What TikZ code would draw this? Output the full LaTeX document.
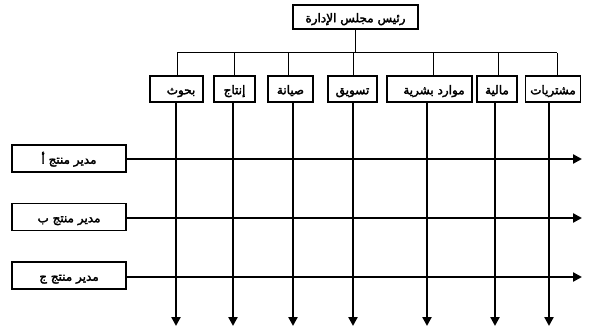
\documentclass[tikz,border=0pt]{standalone}
\usepackage{fontspec}
\newfontfamily\arabicfont[Script=Arabic,AutoFakeBold=2.5]{DejaVu Sans}
\TeXXeTstate=1
\usetikzlibrary{arrows.meta}
\begin{document}
\begin{tikzpicture}[x=1pt,y=-1pt,
 box/.style={draw,line width=1.3pt,inner sep=0pt,fill=white,text height=10.5pt,text depth=0pt,font=\arabicfont\bfseries\fontsize{12}{14}\selectfont},
 deptbox/.style={box,minimum height=26pt},
 rowbox/.style={box,minimum height=27pt,minimum width=114pt},
 thinln/.style={line width=1pt},
 arr/.style={line width=2.6pt,-{Triangle[width=9pt,length=9pt]}}]
\useasboundingbox (0,0) rectangle (589,329);
% chairman
\node[box,minimum width=125pt,minimum height=24pt] (ceo) at (355.5,17) {\beginR رئيس مجلس الإدارة\endR};
% departments
\node[deptbox,minimum width=53pt] (d1) at (176.5,89) {\hspace{9pt}\beginR بحوث\endR};
\node[deptbox,minimum width=41pt] (d2) at (234.5,89) {\beginR إنتاج\endR};
\node[deptbox,minimum width=45pt] (d3) at (290.5,89) {\beginR صيانة\endR};
\node[deptbox,minimum width=49pt] (d4) at (352.5,89) {\beginR تسويق\endR};
\node[deptbox,minimum width=85pt] (d5) at (429.5,89) {\hspace{9pt}\beginR موارد بشرية\endR};
\node[deptbox,minimum width=40pt] (d6) at (497,89) {\beginR مالية\endR};
\node[deptbox,minimum width=55pt] (d7) at (553,89) {\beginR مشتريات\endR};
% bar
\coordinate (barL) at (177,53);
\coordinate (barR) at (557,53);
\draw[thinln] (barL) -- (barR);
\draw[thinln] (ceo.south) -- (ceo.south |- barL);
\foreach \n/\x in {d1/177,d2/234,d3/288,d4/353,d5/433,d6/498,d7/557}{
  \coordinate (t\n) at (\x,53);
  \draw[thinln] (t\n) -- (t\n |- \n.north);
}
% rows
\node[rowbox] (r1) at (69,158.5) {\beginR مدير منتج أ\endR};
\node[rowbox] (r2) at (69,217) {\beginR مدير منتج ب\endR};
\node[rowbox] (r3) at (69,275.5) {\beginR مدير منتج ج\endR};
\foreach \r/\y in {r1/159,r2/218,r3/277}{
  \coordinate (e\r) at (582,\y);
  \draw[arr] (\r.east |- e\r) -- (e\r);
}
% vertical arrows
\foreach \n/\x in {d1/176,d2/233,d3/293,d4/353,d5/427,d6/495,d7/549}{
  \coordinate (b\n) at (\x,326);
  \draw[arr] (b\n |- \n.south) -- (b\n);
}
\end{tikzpicture}
\end{document}
